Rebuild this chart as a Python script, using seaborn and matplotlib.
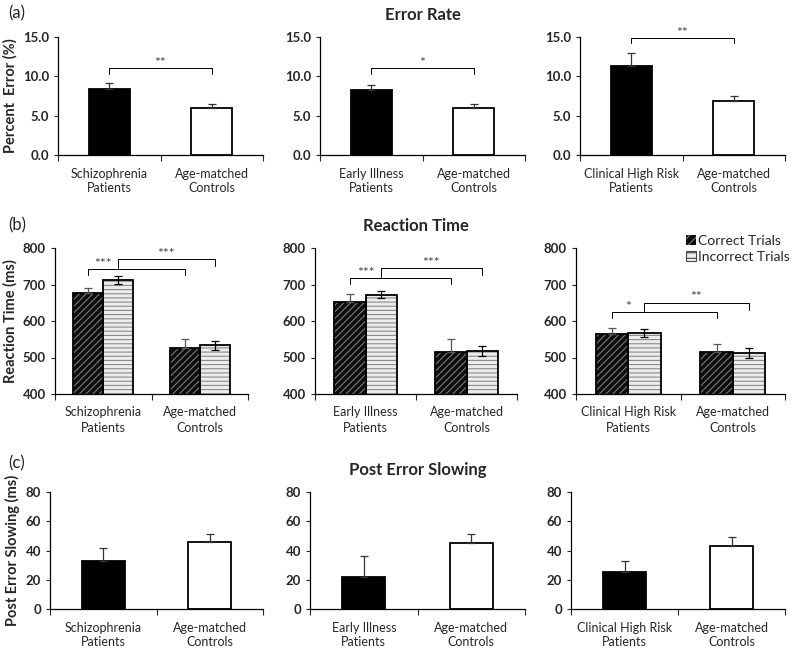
import numpy as np
import pandas as pd
import matplotlib
matplotlib.use("Agg")
import matplotlib.pyplot as plt
from matplotlib.patches import Rectangle, Patch
import seaborn as sns

# ---- data ----
patient_groups = ["Schizophrenia\nPatients", "Early Illness\nPatients", "Clinical High Risk\nPatients"]
control_label = "Age-matched\nControls"

error_rate = [[8.4, 6.0], [8.2, 6.0], [11.3, 6.9]]
error_rate_err = [[0.7, 0.45], [0.7, 0.45], [1.7, 0.6]]
error_rate_sig = ["**", "*", "**"]

rt_correct = [[676, 527], [652, 515], [565, 516]]
rt_correct_err = [[15, 25], [23, 37], [15, 20]]
rt_incorrect = [[712, 533], [672, 518], [567, 512]]
rt_incorrect_err = [[10, 13], [10, 13], [10, 13]]
rt_sig = [["***", "***"], ["***", "***"], ["*", "**"]]
trial_types = ["Correct Trials", "Incorrect Trials"]

pes = [[33, 45.5], [22, 45], [25.5, 43]]
pes_err = [[9, 6], [14, 6.5], [7.5, 6.5]]

# annotation heights for the significance brackets
er_bracket_y = [11.0, 11.0, 14.9]
rt_bracket_y = [[742, 770], [718, 745], [625, 650]]

sns.set_style("ticks")
plt.rcParams["font.family"] = ["Lato", "DejaVu Sans"]
plt.rcParams["hatch.linewidth"] = 0.8

fig = plt.figure(figsize=(8, 6.53), dpi=100)
W, H = 800, 653

CORRECT_FACE, CORRECT_HATCH = "#0d0d0d", "#7a7a7a"
INCORRECT_FACE, INCORRECT_HATCH = "#ececec", "#8a8a8a"


def px_axes(x0, x1, ytop, ybot):
    return fig.add_axes([x0 / W, 1 - ybot / H, (x1 - x0) / W, (ybot - ytop) / H])


def style_axis(ax, labels):
    sns.despine(ax=ax)
    ax.set_xlim(-0.5, 1.5)
    ax.set_xticks([-0.5, 0.5, 1.5])
    ax.set_xticklabels([])
    ax.set_xticks([0, 1], minor=True)
    ax.set_xticklabels(labels, minor=True, fontsize=9, linespacing=1.3)
    ax.tick_params(axis="x", which="minor", length=0, pad=9)
    ax.tick_params(axis="x", which="major", length=4, width=0.8, direction="out")
    ax.tick_params(axis="y", length=3, width=0.8, labelsize=9.5)
    for t in ax.get_yticklabels():
        t.set_fontweight("bold")
    for s in ["left", "bottom"]:
        ax.spines[s].set_linewidth(0.9)
        ax.spines[s].set_color("black")
    ax.set_xlabel("")
    ax.set_ylabel("")


def bracket(ax, x0, x1, y, tip0, tip1, text, tx, ty):
    ax.plot([x0, x0, x1, x1], [tip0, y, y, tip1], color="black", lw=0.7, clip_on=False)
    ax.text(tx, ty, text, ha="center", va="bottom", fontsize=10, color="#444", clip_on=False)


row_a = [(58, 263), (320, 525), (580, 785)]
row_b = [(55, 248), (315, 517), (576, 785)]
row_c = [(50, 263), (310, 525), (571, 785)]

# ---------- (a) Error rate ----------
for i in range(3):
    ax = px_axes(row_a[i][0], row_a[i][1], 37, 155)
    labels = [patient_groups[i], control_label]
    df = pd.DataFrame({"group": labels, "value": error_rate[i]})
    sns.barplot(data=df, x="group", y="value", hue="group", palette=["black", "white"],
                width=0.4, edgecolor="black", linewidth=1.3, errorbar=None, legend=False, ax=ax)
    ax.errorbar([0, 1], error_rate[i], yerr=[[0, 0], error_rate_err[i]], fmt="none",
                ecolor="#333", elinewidth=0.9, capsize=3, capthick=0.9)
    ax.set_ylim(0, 15)
    ax.set_yticks([0, 5, 10, 15])
    ax.set_yticklabels(["0.0", "5.0", "10.0", "15.0"])
    style_axis(ax, labels)
    y = er_bracket_y[i]
    bracket(ax, 0, 1, y, y - 0.7, y - 0.7, error_rate_sig[i], 0.5, y - 0.1)
    if i == 0:
        ax.set_ylabel("Percent  Error (%)", fontsize=10.5, fontweight="bold", labelpad=4)
    if i == 1:
        ax.set_title("Error Rate", fontsize=12, fontweight="bold", pad=12)

# ---------- (b) Reaction time ----------
for i in range(3):
    ax = px_axes(row_b[i][0], row_b[i][1], 248, 394)
    labels = [patient_groups[i], control_label]
    df = pd.DataFrame({
        "group": labels * 2,
        "trial": [trial_types[0]] * 2 + [trial_types[1]] * 2,
        "value": rt_correct[i] + rt_incorrect[i],
    })
    sns.barplot(data=df, x="group", y="value", hue="trial", hue_order=trial_types,
                width=0.62, errorbar=None, legend=False, ax=ax)
    # restyle bars: hatch drawn in its own colour, black outline on top
    for p in list(ax.patches):
        if p.get_height() == 0:
            continue
        cx = p.get_x() + p.get_width() / 2
        if cx < np.round(cx):
            p.set_facecolor(CORRECT_FACE)
            p.set_edgecolor(CORRECT_HATCH)
            p.set_hatch("/////")
        else:
            p.set_facecolor(INCORRECT_FACE)
            p.set_edgecolor(INCORRECT_HATCH)
            p.set_hatch("----")
        p.set_linewidth(0)
        ax.add_patch(Rectangle((p.get_x(), p.get_y()), p.get_width(), p.get_height(),
                               fill=False, edgecolor="black", lw=1.3, zorder=p.get_zorder() + 0.1))
    off = 0.155
    ax.errorbar([-off, 1 - off], rt_correct[i], yerr=[[0, 0], rt_correct_err[i]], fmt="none",
                ecolor="#555", elinewidth=0.9, capsize=3, capthick=0.9, zorder=5)
    ax.errorbar([off, 1 + off], rt_incorrect[i], yerr=rt_incorrect_err[i], fmt="none",
                ecolor="black", elinewidth=0.9, capsize=3, capthick=0.9, zorder=5)
    ax.set_ylim(400, 800)
    ax.set_yticks([400, 500, 600, 700, 800])
    style_axis(ax, labels)
    y1, y2 = rt_bracket_y[i]
    bracket(ax, -off, 1 - off, y1, y1 - 17, y1 - 17, rt_sig[i][0], 0.0, y1 - 2)
    bracket(ax, off, 1 + off, y2, y1 + 2, y2 - 20, rt_sig[i][1], 0.65, y2 - 2)
    if i == 0:
        ax.set_ylabel("Reaction Time (ms)", fontsize=10.5, fontweight="bold", labelpad=4)
    if i == 1:
        ax.set_title("Reaction Time", fontsize=12, fontweight="bold", pad=12)
    if i == 2:
        handles = [Patch(facecolor=CORRECT_FACE, edgecolor=CORRECT_HATCH, hatch="////", lw=0),
                   Patch(facecolor=INCORRECT_FACE, edgecolor="#444", hatch="---", lw=0.8)]
        ax.legend(handles, trial_types, loc="upper right", bbox_to_anchor=(1.05, 1.13),
                  frameon=False, fontsize=10, handlelength=0.7, handleheight=0.7,
                  handletextpad=0.15, labelspacing=0.3, borderaxespad=0)

# ---------- (c) Post error slowing ----------
for i in range(3):
    ax = px_axes(row_c[i][0], row_c[i][1], 492, 609)
    labels = [patient_groups[i], control_label]
    df = pd.DataFrame({"group": labels, "value": pes[i]})
    sns.barplot(data=df, x="group", y="value", hue="group", palette=["black", "white"],
                width=0.4, edgecolor="black", linewidth=1.3, errorbar=None, legend=False, ax=ax)
    ax.errorbar([0, 1], pes[i], yerr=[[0, 0], pes_err[i]], fmt="none",
                ecolor="#333", elinewidth=0.9, capsize=3, capthick=0.9)
    ax.set_ylim(0, 80)
    ax.set_yticks([0, 20, 40, 60, 80])
    style_axis(ax, labels)
    if i == 0:
        ax.set_ylabel("Post Error Slowing (ms)", fontsize=10.5, fontweight="bold", labelpad=4)
    if i == 1:
        ax.set_title("Post Error Slowing", fontsize=12, fontweight="bold", pad=12)

fig.text(8 / W, 1 - 13 / H, "(a)", fontsize=12, va="center")
fig.text(8 / W, 1 - 225 / H, "(b)", fontsize=12, va="center")
fig.text(8 / W, 1 - 463 / H, "(c)", fontsize=12, va="center")

fig.savefig("out.png", dpi=100)
